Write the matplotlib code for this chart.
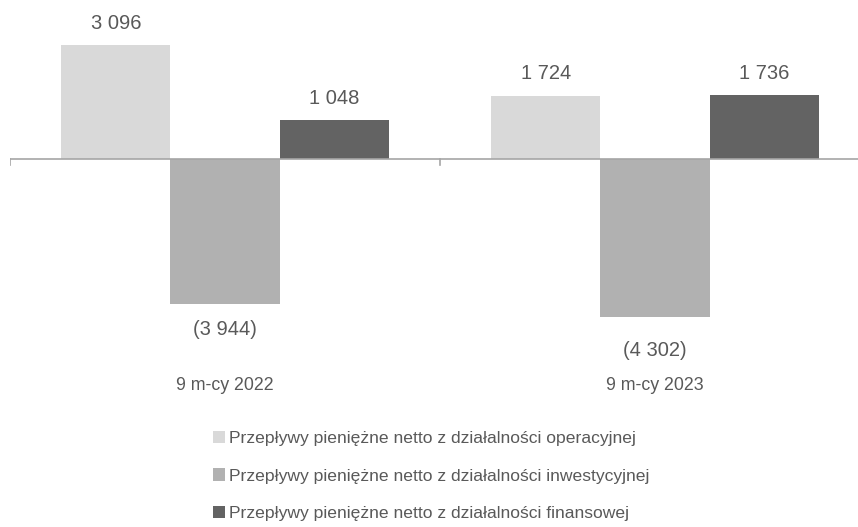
import matplotlib
matplotlib.use("Agg")
import matplotlib.pyplot as plt
import numpy as np

periods = ["9 m-cy 2022", "9 m-cy 2023"]
series_names = [
    "Przepływy pieniężne netto z działalności operacyjnej",
    "Przepływy pieniężne netto z działalności inwestycyjnej",
    "Przepływy pieniężne netto z działalności finansowej",
]
operating = [3096, 1724]
investing = [-3944, -4302]
financing = [1048, 1736]

colors = ["#d9d9d9", "#b1b1b1", "#636363"]
text_color = "#595959"
fonts = ["Liberation Sans", "DejaVu Sans"]
# label distance from bar end (pixels), per period, for negative bars
neg_pad = [25, 33]


def fmt(v):
    s = f"{abs(v):,}".replace(",", " ")
    return f"({s})" if v < 0 else s


W, H = 858, 527
fig = plt.figure(figsize=(W / 100, H / 100), dpi=100)
# axes spans x 10..858 px, whole height
ax = fig.add_axes([10 / W, 0, 1 - 10 / W, 1])
px = 0.0368  # px per unit
zero_y = 159
cat_w = 430
ax.set_ylim(-(H - zero_y) / px, zero_y / px)
ax.set_xlim(-0.5, -0.5 + (W - 10) / cat_w)

x = np.arange(len(periods))
bw = 0.254
all_series = [operating, investing, financing]
for i, (vals, c, name) in enumerate(zip(all_series, colors, series_names)):
    xs = x + (i - 1) * bw
    ax.bar(xs, vals, width=bw, color=c, label=name, zorder=2)
    for j, (xi, v) in enumerate(zip(xs, vals)):
        off = 22 / px if v >= 0 else -neg_pad[j] / px
        ax.text(xi, v + off, fmt(v), ha="center", va="center",
                fontsize=14.5, color=text_color, family=fonts)

ax.axhline(0, color="#a6a6a6", lw=1.2, zorder=3)
for t in [-0.5, 0.5, 1.5]:
    ax.plot([t, t], [0, -6 / px], color="#a6a6a6", lw=1.2, zorder=3)

for xi, p in zip(x, periods):
    ax.text(xi, (zero_y - 386) / px, p, ha="center", va="center",
            fontsize=12.8, color=text_color, family=fonts)

ax.axis("off")

leg = fig.legend(loc="upper left", bbox_to_anchor=(197 / W, 1 - 415 / H),
                 frameon=False, handlelength=0.7, handleheight=0.7,
                 handletextpad=0.25, labelspacing=1.28,
                 prop={"family": fonts, "size": 12.6})
for t in leg.get_texts():
    t.set_color(text_color)

fig.savefig("out.png", dpi=100)
